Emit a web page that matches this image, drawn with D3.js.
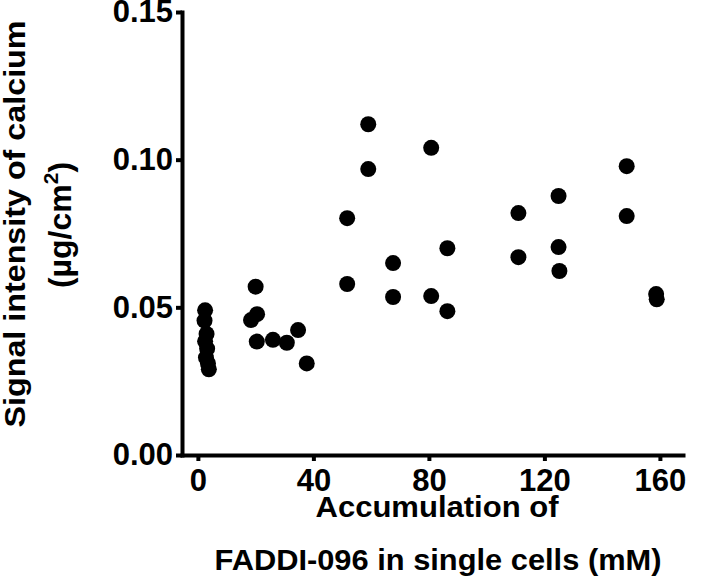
<!DOCTYPE html>
<html>
<head>
<meta charset="utf-8">
<script src="https://cdn.jsdelivr.net/npm/d3@7"></script>
<style>
  body { margin: 0; background: #fff; }
  svg { display: block; font-family: "Liberation Sans", Arial, sans-serif; font-weight: bold; }
</style>
</head>
<body>
<svg id="chart"></svg>
<script>
// data (x in mM, y in µg/cm²)
const accumulation = [
  2.5, 2.3, 3.0, 2.5, 3.2, 2.8, 3.5, 3.8,
  20.0, 18.4, 20.5, 20.4, 26.0, 30.8, 34.7, 37.7,
  51.7, 51.7, 59.0, 59.0, 67.6, 67.6, 80.8, 80.8, 86.4, 86.4,
  111.0, 111.0, 124.9, 124.9, 125.2, 148.5, 148.5, 158.7, 158.9
];
const calcium = [
  0.049, 0.0455, 0.041, 0.0385, 0.036, 0.033, 0.031, 0.029,
  0.057, 0.0457, 0.0477, 0.0384, 0.039, 0.038, 0.0423, 0.031,
  0.0802, 0.0579, 0.112, 0.0968, 0.065, 0.0535, 0.104, 0.0538, 0.070, 0.0487,
  0.0819, 0.067, 0.0877, 0.0704, 0.0623, 0.0978, 0.0809, 0.0545, 0.0527
];
const xTicks = [0, 40, 80, 120, 160];
const yTicks = [0, 0.05, 0.10, 0.15];

const width = 714;
const height = 580;

const svg = d3.select("#chart")
  .attr("width", width)
  .attr("height", height);

// scales, ranges taken from where the axes sit in the reference
const x = d3.scaleLinear().domain([-5.5, 168]).range([182, 683]);
const y = d3.scaleLinear().domain([0, 0.15]).range([455, 12]);

// x axis
const xAxis = svg.append("g")
  .attr("transform", `translate(0,${y(0)})`)
  .call(d3.axisBottom(x).tickValues(xTicks).tickFormat(d3.format("d"))
    .tickSize(6).tickSizeOuter(0).tickPadding(8));

// y axis
const yAxis = svg.append("g")
  .attr("transform", `translate(${x.range()[0]},0)`)
  .call(d3.axisLeft(y).tickValues(yTicks).tickFormat(d3.format(".2f"))
    .tickSize(6).tickSizeOuter(0).tickPadding(3));

// thick black Prism-like axes
[xAxis, yAxis].forEach(ax => {
  ax.select(".domain").attr("stroke", "#000").attr("stroke-width", 4).attr("stroke-linecap", "square");
  ax.selectAll(".tick line").attr("stroke", "#000").attr("stroke-width", 4);
  ax.selectAll(".tick text")
    .attr("fill", "#000")
    .style("font-size", "31px")
    .style("font-weight", "bold");
});

// points
svg.append("g")
  .selectAll("circle")
  .data(accumulation.map((d, i) => [d, calcium[i]]))
  .join("circle")
  .attr("cx", d => x(d[0]))
  .attr("cy", d => y(d[1]))
  .attr("r", 8)
  .attr("fill", "#000");

// x axis title, two lines
const xTitle = svg.append("g")
  .attr("font-size", 30)
  .attr("text-anchor", "middle");
xTitle.append("text")
  .attr("x", 437).attr("y", 517)
  .attr("textLength", 243).attr("lengthAdjust", "spacingAndGlyphs")
  .text("Accumulation of");
xTitle.append("text")
  .attr("x", 438).attr("y", 570)
  .attr("textLength", 447).attr("lengthAdjust", "spacingAndGlyphs")
  .text("FADDI-096 in single cells (mM)");

// y axis title, rotated
const yTitle = svg.append("g")
  .attr("font-size", 30)
  .attr("text-anchor", "middle");
yTitle.append("text")
  .attr("transform", "translate(25,224) rotate(-90)")
  .attr("textLength", 407).attr("lengthAdjust", "spacingAndGlyphs")
  .text("Signal intensity of calcium");
const unit = yTitle.append("text")
  .attr("font-size", 32)
  .attr("transform", "translate(71,225) rotate(-90)");
unit.append("tspan").text("(µg/cm");
unit.append("tspan").attr("font-size", 21).attr("dy", -13).text("2");
unit.append("tspan").attr("dy", 13).text(")");
</script>
</body>
</html>
